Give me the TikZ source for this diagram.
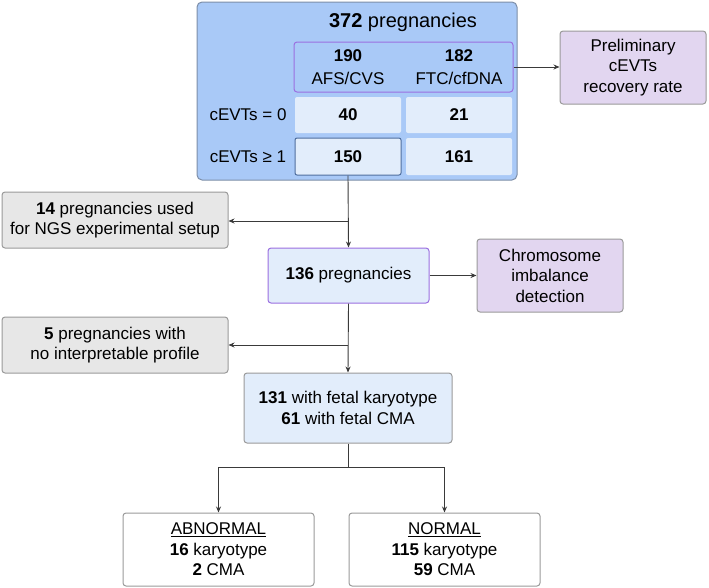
\documentclass[tikz,border=0pt]{standalone}
\usepackage{fontspec}
\setmainfont{Liberation Sans}
\usetikzlibrary{arrows.meta}
\definecolor{outerblue}{HTML}{A9C9F7}
\definecolor{outerline}{HTML}{7D8EA8}
\definecolor{cellblue}{HTML}{E2EDFB}
\definecolor{headline}{HTML}{9B6FE0}
\definecolor{cellline}{HTML}{4F6E9E}
\definecolor{lilac}{HTML}{E2D6F0}
\definecolor{boxgray}{HTML}{E7E7E7}
\definecolor{lineGray}{HTML}{9A9A9A}
\definecolor{wireGray}{HTML}{3A3A3A}
\begin{document}
\begin{tikzpicture}[x=1pt,y=-1pt,line width=1pt,font=\fontsize{17}{20.5}\selectfont,>={Stealth[length=6pt,width=5pt]}]
	\def \colone{348}
	\def \coltwo{459}
	\def \rowzero{115}
	\def \rowone{156.5}
	\tikzstyle{outer}=[draw=outerline,fill=outerblue,rounded corners=5pt,minimum width=320pt,minimum height=178pt]
	\tikzstyle{head}=[draw=headline,fill=outerblue,rounded corners=3pt,minimum width=219pt,minimum height=50pt]
	\tikzstyle{cell}=[fill=cellblue,rounded corners=2pt,minimum width=106pt,minimum height=36pt,font=\fontsize{17}{20.5}\selectfont\bfseries]
	\tikzstyle{stage}=[draw=headline,fill=cellblue,rounded corners=3pt,align=center]
	\tikzstyle{aim}=[draw=lineGray,fill=lilac,rounded corners=3pt,align=center,minimum width=146pt,minimum height=73pt]
	\tikzstyle{drop}=[draw=lineGray,fill=boxgray,rounded corners=3pt,align=center,minimum width=226pt,minimum height=56pt]
	\tikzstyle{result}=[draw=lineGray,fill=white,rounded corners=3pt,align=center,minimum width=191pt,minimum height=73pt]
	\tikzstyle{wire}=[draw=wireGray,line width=0.9pt]
	\useasboundingbox (0,0) rectangle (709,587);

	% cohort table
	\node[outer] 	(cohort)	at (357,91)		{};
	\node 	(title)	at (403,22)	{\fontsize{20}{24}\selectfont\textbf{372} pregnancies};
	\node[head] 	(head)	at (403.5,67)	{};
	\node[align=center] 	(afs)	at (\colone,67)	{\textbf{190}\\[2pt]AFS/CVS};
	\node[align=center] 	(ftc)	at (\coltwo,67)	{\textbf{182}\\[2pt]FTC/cfDNA};
	\node 	(r0)	at (248,\rowzero)	{cEVTs = 0};
	\node 	(r1)	at (248,\rowone)	{cEVTs ≥ 1};
	\node[cell] 	(c00)	at (\colone,\rowzero)	{40};
	\node[cell] 	(c01)	at (\coltwo,\rowzero)	{21};
	\node[cell,draw=cellline,minimum height=37pt] 	(c10)	at (\colone,\rowone)	{150};
	\node[cell,minimum height=37pt] 	(c11)	at (\coltwo,\rowone)	{161};

	% aims
	\node[aim] 	(prelim)	at (633,67.5)	{Preliminary\\cEVTs\\recovery rate};
	\node[aim] 	(chrom)	at (550,275.5)	{Chromosome\\imbalance\\detection};

	% flow
	\node[drop] 	(setup)	at (115,220)	{\textbf{14} pregnancies used\\for NGS experimental setup};
	\node[stage,minimum width=161pt,minimum height=55pt] 	(p136)	at (348.5,275.5)	{\textbf{136} pregnancies};
	\node[drop] 	(noprof)	at (115,345)	{\textbf{5} pregnancies with\\no interpretable profile};
	\node[stage,draw=lineGray,minimum width=208pt,minimum height=70pt] 	(p131)	at (348,408)	{\textbf{131} with fetal karyotype\\\textbf{61} with fetal CMA};
	\node[result] 	(abn)	at (218.5,549.5)	{\underline{ABNORMAL}\\\textbf{16} karyotype\\\textbf{2} CMA};
	\node[result] 	(norm)	at (444.5,549.5)	{\underline{NORMAL}\\\textbf{115} karyotype\\\textbf{59} CMA};

	\coordinate 	(j1)	at (348,221);
	\coordinate 	(j2)	at (348,345);
	\coordinate 	(split)	at (348,467);

	\path[wire]
		(head.east)	edge[->]	(head.east -| prelim.west)
		(c10.south)	edge[->]	(p136.north)
		(j1)	edge[->]	(j1 -| setup.east)
		(p136.east)	edge[->]	(p136.east -| chrom.west)
		(p136.south)	edge[->]	(p131.north)
		(j2)	edge[->]	(j2 -| noprof.east)
		(p131.south)	edge	(split);
	\draw[wire,->] (split) -| (abn.north);
	\draw[wire,->] (split) -| (norm.north);
\end{tikzpicture}
\end{document}
